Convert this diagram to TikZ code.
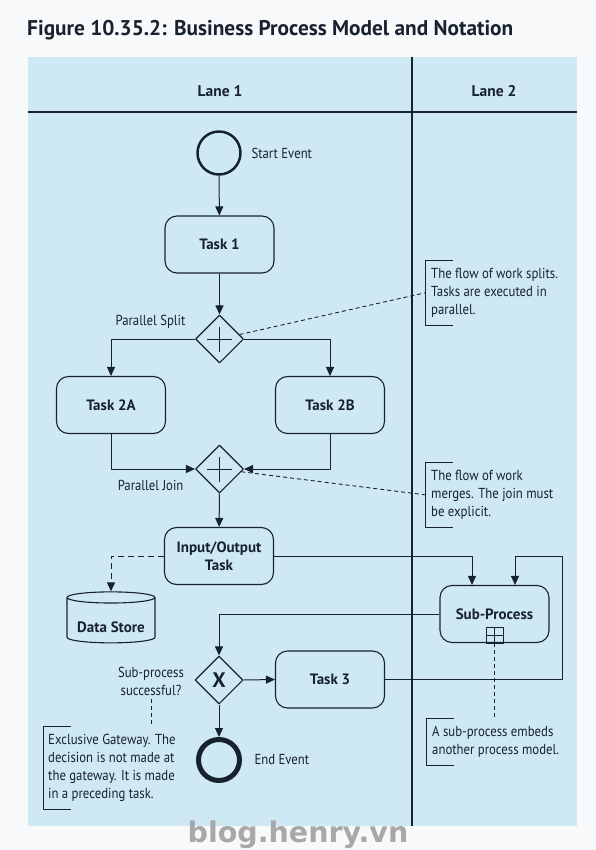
\documentclass[tikz,border=0pt]{standalone}
\usepackage{fontspec}
\setmainfont{PT Sans}[FakeStretch=0.88]
\newfontfamily\headfont{PT Sans}
\newfontfamily\markfont{DejaVu Sans}
\usetikzlibrary{arrows.meta,shapes.geometric}

\definecolor{pagebg}{RGB}{248,249,250}
\definecolor{lanebg}{RGB}{206,233,244}
\definecolor{ink}{RGB}{24,34,46}
\definecolor{markgray}{RGB}{168,168,168}

% bracket of a text annotation
\newcommand{\annobracket}[1]{%
  \draw[ink, line width=1pt] ([xshift=28pt]#1.north west) -- (#1.north west)
    -- (#1.south west) -- ([xshift=28pt]#1.south west);}
% plus inside a parallel gateway
\newcommand{\plusmark}[1]{%
  \draw[ink, line width=1pt] ([xshift=-12.5pt]#1.center) -- ([xshift=12.5pt]#1.center)
    ([yshift=-12.5pt]#1.center) -- ([yshift=12.5pt]#1.center);}

\tikzset{
  task/.style={draw=ink, fill=lanebg, rounded corners=12pt, line width=1.1pt,
    minimum width=109pt, minimum height=57pt, align=center, text=ink,
    font=\headfont\fontsize{15}{18}\selectfont\bfseries},
  gateway/.style={diamond, draw=ink, fill=lanebg, line width=1.1pt,
    minimum width=48pt, minimum height=48pt, inner sep=0pt},
  event/.style={circle, draw=ink, fill=lanebg, inner sep=0pt},
  lbl/.style={font=\fontsize{14.5}{18}\selectfont, text=ink},
  lanehead/.style={font=\headfont\fontsize{15.5}{18}\selectfont\bfseries, text=ink},
  annot/.style={lbl, align=left, anchor=north west, inner xsep=6pt, inner ysep=8pt},
  flow/.style={->, line width=1pt, draw=ink},
  assoc/.style={line width=0.9pt, draw=ink, dash pattern=on 4pt off 3pt},
}

\begin{document}
\begin{tikzpicture}[x=1pt, y=-1pt, line join=round, >={Triangle[length=9pt,width=8pt]}]

  \useasboundingbox (0,0) rectangle (596,850);
  \fill[pagebg] (0,0) rectangle (596,850);

  \node[anchor=base west, inner sep=0pt, text=ink,
    font=\headfont\fontsize{21.3}{26}\selectfont\bfseries] (title) at (27,36)
    {Figure 10.35.2: Business Process Model and Notation};

  % pool and lanes
  \fill[lanebg] (28,57) rectangle (577,826);
  \draw[ink, line width=1.1pt] (28,112) -- (577,112)
    (412,57) -- (412,826);
  \node[lanehead] (lane1) at (220,91) {Lane 1};
  \node[lanehead] (lane2) at (494,91) {Lane 2};

  % flow objects
  \node[event, line width=2.5pt, minimum size=43pt] (start) at (219,153) {};
  \node[lbl, anchor=west] (startlbl) at (248,153) {Start Event};
  \node[task] (t1) at (219.5,244.5) {Task 1};
  \node[gateway] (split) at (219.5,339) {};
  \plusmark{split}
  \node[lbl, anchor=east] (splitlbl) at (189,322) {Parallel Split};
  \node[task] (t2a) at (111,405) {Task 2A};
  \node[task] (t2b) at (330,405) {Task 2B};
  \node[gateway] (join) at (219.5,469) {};
  \plusmark{join}
  \node[lbl, anchor=east] (joinlbl) at (187,485) {Parallel Join};
  \node[task] (io) at (219,556) {Input/Output\\Task};
  \node[cylinder, shape border rotate=90, aspect=0.15, draw=ink, fill=lanebg,
    line width=1.1pt, minimum width=88pt, minimum height=51pt, text=ink,
    font=\headfont\fontsize{15}{18}\selectfont\bfseries] (store) at (111,621.5)
    {\raisebox{-6pt}[\height][\depth]{Data Store}};
  \node[task] (sub) at (494.5,614) {Sub-Process};
  \draw[ink, line width=1pt] ([xshift=-8.5pt]sub.south) rectangle ([xshift=8.5pt,yshift=16pt]sub.south)
    ([yshift=8pt]sub.south) ++(-8.5,0) -- ++(17,0)
    (sub.south) -- ([yshift=16pt]sub.south);
  \node[gateway, text=ink, font=\headfont\fontsize{21}{21}\selectfont\bfseries] (xgw) at (219,680) {X};
  \node[lbl, align=center] (xlbl) at (151,681) {Sub-process\\successful?};
  \node[task] (t3) at (330,679.5) {Task 3};
  \node[event, line width=5pt, minimum size=41pt] (end) at (219,760) {};
  \node[lbl, anchor=west] (endlbl) at (251,760) {End Event};
  \coordinate (loop) at (562,556);

  % text annotations
  \node[annot] (ann1) at (425,260) {The flow of work splits.\\Tasks are executed in\\parallel.};
  \node[annot] (ann2) at (425,462) {The flow of work\\merges. The join must\\be explicit.};
  \node[annot] (ann3) at (426,718) {A sub-process embeds\\another process model.};
  \node[annot, inner xsep=5pt] (ann4) at (43,726) {Exclusive Gateway. The\\decision is not made at\\the gateway. It is made\\in a preceding task.};
  \annobracket{ann1}
  \annobracket{ann2}
  \annobracket{ann3}
  \annobracket{ann4}

  % sequence flows
  \draw[flow] (start) -- (t1);
  \draw[flow] (t1) -- (split);
  \draw[flow] (split.west) -| (t2a.north);
  \draw[flow] (split.east) -| (t2b.north);
  \draw[flow] (t2a.south) |- (join.west);
  \draw[flow] (t2b.south) |- (join.east);
  \draw[flow] (join) -- (io);
  \draw[flow] (io.east) -| ([xshift=-22.5pt]sub.north);
  \draw[flow] (sub.west) -| (xgw.north);
  \draw[flow] (xgw.east) -- (t3.west);
  \draw[flow] (xgw.south) -- (end.north);
  \draw[flow] (t3.east) -| (loop) -| ([xshift=20.5pt]sub.north);

  % data and associations
  \draw[flow, dash pattern=on 6pt off 4pt] (io.west) -| (store.north);
  \draw[assoc] (split) -- (ann1.west);
  \draw[assoc] (join) -- (ann2.west);
  \draw[assoc] (sub.south) -- (sub.south |- ann3.north);
  \draw[assoc] (xlbl.south) -- (xlbl.south |- ann4.north);

  \node[anchor=base, inner sep=0pt, text=markgray,
    font=\markfont\bfseries\fontsize{28.5}{32}\selectfont] (mark) at (298,842) {blog.henry.vn};

\end{tikzpicture}
\end{document}
